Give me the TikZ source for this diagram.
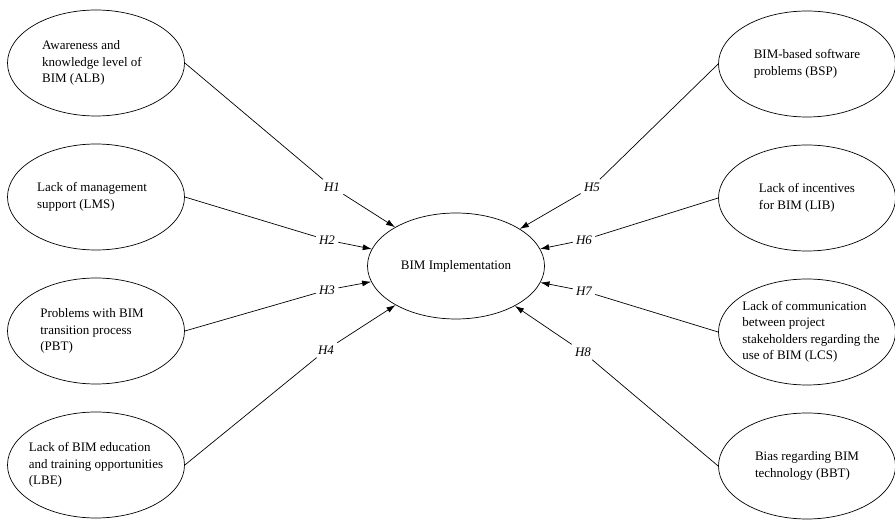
\documentclass[tikz,border=0pt]{standalone}
\usepackage{fontspec}
\setmainfont{Liberation Serif}
\usetikzlibrary{shapes.geometric,positioning,arrows.meta}
\tikzset{
  factor/.style={draw, ellipse, minimum width=177pt, minimum height=106pt, inner sep=0pt, line width=0.7pt},
  factortext/.style={align=left, font=\fontsize{13}{16.5}\selectfont},
  hyp/.style={font=\fontsize{13}{15}\selectfont\itshape, inner sep=3pt},
  arr/.style={-{Latex[length=9pt,width=6pt]}},
}
\begin{document}
\begin{tikzpicture}[x=1pt,y=1pt,node distance=134pt,line width=0.7pt]
\useasboundingbox (0,0) rectangle (895,520);
% constructs on the left
\node(ALB) [factor, label={[factortext, xshift=-4pt]center:{Awareness and\\knowledge level of\\BIM (ALB)}}] at (96,457) {};
\node(LMS) [factor, below of=ALB, label={[factortext, xshift=-4pt]center:{Lack of management\\support (LMS)}}] {};
\node(PBT) [factor, below of=LMS, label={[factortext, xshift=-4pt]center:{Problems with BIM\\transition process\\(PBT)}}] {};
\node(LBE) [factor, below of=PBT, label={[factortext]center:{Lack of BIM education\\and training opportunities\\(LBE)}}] {};
% constructs on the right
\node(BSP) [factor, label={[factortext]center:{BIM-based software\\problems (BSP)}}] at (807,456) {};
\node(LIB) [factor, below of=BSP, label={[factortext]center:{Lack of incentives\\for BIM (LIB)}}] {};
\node(LCS) [factor, below of=LIB, label={[factortext, xshift=4pt]center:{Lack of communication\\between project\\stakeholders regarding the\\use of BIM (LCS)}}] {};
\node(BBT) [factor, below of=LCS, label={[factortext]center:{Bias regarding BIM\\technology (BBT)}}] {};
% dependent construct
\node(BIM) [factor, factortext] at (456,254) {BIM Implementation};

\node(h1) [hyp] at (332,333) {H1};
\node(h2) [hyp] at (327,280) {H2};
\node(h3) [hyp] at (327,230) {H3};
\node(h4) [hyp] at (326,170) {H4};
\node(h5) [hyp] at (592,333) {H5};
\node(h6) [hyp] at (584,280) {H6};
\node(h7) [hyp] at (584,229) {H7};
\node(h8) [hyp] at (583,168) {H8};

\draw(ALB.east)     -- (h1);
\draw(LMS.east)     -- (h2);
\draw(PBT.east)     -- (h3);
\draw(LBE.east)     -- (h4);
\draw(BSP.west)     -- (h5);
\draw(LIB.west)     -- (h6);
\draw(LCS.west)     -- (h7);
\draw(BBT.west)     -- (h8);
\draw[arr](h1)      -- (BIM);
\draw[arr](h2)      -- (BIM);
\draw[arr](h3)      -- (BIM);
\draw[arr](h4)      -- (BIM);
\draw[arr](h5)      -- (BIM);
\draw[arr](h6)      -- (BIM);
\draw[arr](h7)      -- (BIM);
\draw[arr](h8)      -- (BIM);
\end{tikzpicture}
\end{document}
